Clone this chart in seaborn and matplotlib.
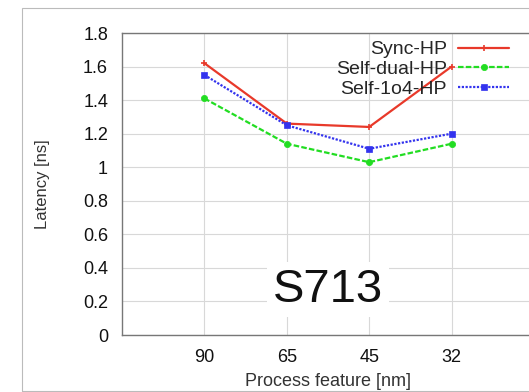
import matplotlib
matplotlib.use("Agg")
import matplotlib.pyplot as plt
import seaborn as sns
import pandas as pd
from matplotlib.patches import Rectangle

features = ["90", "65", "45", "32"]
sync_hp = [1.62, 1.26, 1.24, 1.60]
self_dual_hp = [1.41, 1.14, 1.03, 1.14]
self_1o4_hp = [1.55, 1.25, 1.11, 1.20]
yticks = [0, 0.2, 0.4, 0.6, 0.8, 1, 1.2, 1.4, 1.6, 1.8]
ytick_labels = ["0", "0.2", "0.4", "0.6", "0.8", "1", "1.2", "1.4", "1.6", "1.8"]

sns.set_theme(style="white")
plt.rcParams["font.family"] = ["Liberation Sans", "DejaVu Sans"]

pos = list(range(1, len(features) + 1))
df = pd.DataFrame({
    "pos": pos * 3,
    "latency": sync_hp + self_dual_hp + self_1o4_hp,
    "series": ["Sync-HP"] * 4 + ["Self-dual-HP"] * 4 + ["Self-1o4-HP"] * 4,
})

fig = plt.figure(figsize=(5.29, 3.92), dpi=100)
ax = fig.add_axes([122 / 529, 57 / 392, 412 / 529, 302 / 392])

styles = {
    "Sync-HP": dict(color="#e8392a", ls="-", marker="+", ms=5, lw=1.6, mew=1.2),
    "Self-dual-HP": dict(color="#22dd22", ls=(0, (2.5, 1)), marker="o", ms=4.5, lw=1.6),
    "Self-1o4-HP": dict(color="#3333ee", ls=(0, (1, 0.7)), marker="s", ms=4.5, lw=1.6),
}
for name, st in styles.items():
    sub = df[df["series"] == name]
    sns.lineplot(data=sub, x="pos", y="latency", ax=ax, label=name,
                 color=st["color"], linestyle=st["ls"], marker=st["marker"],
                 markersize=st["ms"], linewidth=st["lw"],
                 markeredgecolor=st["color"], markeredgewidth=st.get("mew", 0.5))

ax.set_xlim(0, 5)
ax.set_ylim(0, 1.8)
ax.set_xticks(pos)
ax.set_xticklabels(features, fontsize=13)
ax.set_yticks(yticks)
ax.set_yticklabels(ytick_labels, fontsize=13)
ax.tick_params(axis="both", length=0, pad=10, colors="#111111")
ax.grid(True, color="#d8d8d8", linewidth=0.8)
for s in ax.spines.values():
    s.set_color("#777777")
    s.set_linewidth(1.0)

ax.set_xlabel("Process feature [nm]", fontsize=13, color="#333333", labelpad=5)
ax.set_ylabel("Latency [ns]", fontsize=12, color="#333333", labelpad=24)

ax.text(2.5, 0.27, "S713", fontsize=34, ha="center", va="center", color="#111111",
        bbox=dict(facecolor="white", edgecolor="none", pad=4), zorder=5)

leg = ax.legend(loc="upper left", bbox_to_anchor=(0.5, 1.0), frameon=False,
                fontsize=14, markerfirst=False, handlelength=2.6,
                labelspacing=0.1, handletextpad=0.6, borderaxespad=0)
for t in leg.get_texts():
    t.set_ha("right")
leg._legend_box.align = "right"

fig.add_artist(Rectangle((22 / 529, 1 / 392), 1.2, 383 / 392,
                         transform=fig.transFigure, fill=False,
                         edgecolor="#bbbbbb", linewidth=0.8))

fig.savefig("out.png", dpi=100)
